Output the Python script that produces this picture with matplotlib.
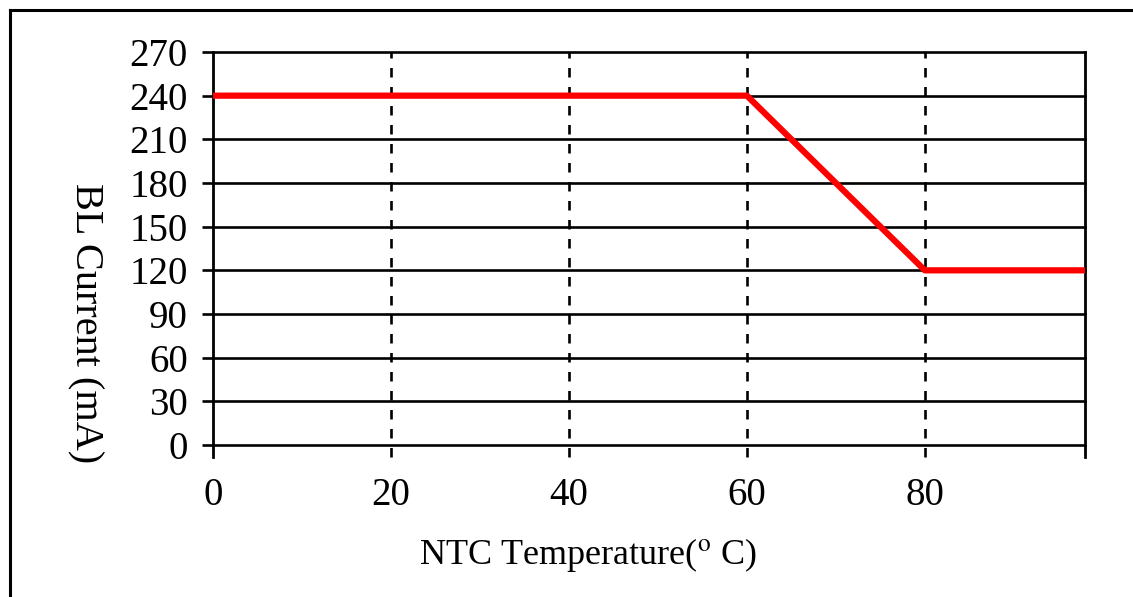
import matplotlib.pyplot as plt
from matplotlib.lines import Line2D

temp = [0, 60, 80, 98]
current = [240, 240, 120, 120]
xticks = [0, 20, 40, 60, 80]
yticks = [0, 30, 60, 90, 120, 150, 180, 210, 240, 270]

plt.rcParams['font.family'] = ['Liberation Serif', 'DejaVu Serif']
plt.rcParams['mathtext.fontset'] = 'stix'

fig = plt.figure(figsize=(11.33, 5.97), dpi=100)
ax = fig.add_axes([213/1133, 1-445/597, (1085-213)/1133, (445-52)/597])

ax.set_xlim(0, 98)
ax.set_ylim(0, 270)

for s in ax.spines.values():
    s.set_visible(False)

# horizontal grid lines (solid)
for y in yticks:
    ax.axhline(y, xmin=0, xmax=1, color='black', lw=1.9, clip_on=False, zorder=1)
# vertical dashed grid lines, running a bit below the axis
for x in xticks[1:]:
    ax.axvline(x, ymin=-0.03, ymax=1, color='black', lw=1.9, ls=(0, (3.6, 3.6)),
               clip_on=False, zorder=1)
# left and right frame lines
ax.plot([0, 0], [-0.03, 1], transform=ax.transAxes, color='black', lw=2.0,
        clip_on=False, zorder=2)
ax.plot([1, 1], [-0.03, 1], transform=ax.transAxes, color='black', lw=2.0,
        clip_on=False, zorder=2)

ax.plot(temp, current, color='#ff0000', lw=4.5, solid_capstyle='butt',
        clip_on=False, zorder=3)

ax.set_xticks(xticks)
ax.set_yticks(yticks)
ax.tick_params(axis='x', length=0, pad=23, labelsize=28)
ax.tick_params(axis='y', length=8, width=1.9, pad=10, labelsize=28)

fig.text(588/1133, 1-555/597, 'NTC Temperature($^{\\rm o}$ C)', fontsize=26,
         ha='center', va='center')
fig.text(85/1133, 1-323/597, 'BL Current (mA)', fontsize=29, rotation=270,
         ha='center', va='center')

# outer frame
fig.add_artist(Line2D([10/1133, 10/1133], [0, 1-10/597], color='black', lw=2.2,
                      transform=fig.transFigure))
fig.add_artist(Line2D([10/1133, 1], [1-10/597, 1-10/597], color='black', lw=2.2,
                      transform=fig.transFigure))

fig.savefig('out.png', dpi=100)
